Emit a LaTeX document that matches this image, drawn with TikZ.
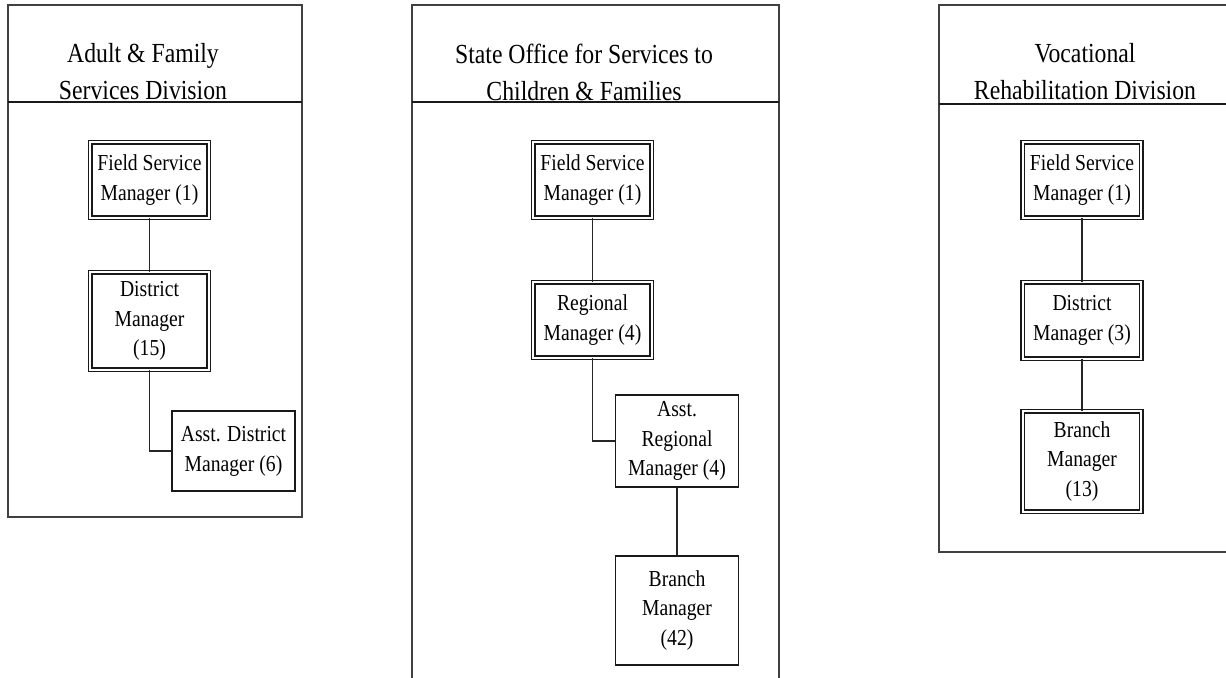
\documentclass[tikz,border=0pt]{standalone}
\usepackage{fontspec}
\setmainfont{Liberation Serif}[FakeStretch=0.86]
\begin{document}
\begin{tikzpicture}[x=0.02cm,y=-0.02cm,
		frame/.style={draw=black!75,line width=0.7pt},
		rule/.style={draw=black!90,line width=1.1pt},
		head/.style={align=center,font=\fontsize{15.7}{21}\selectfont},
		dbox/.style={draw=black!90,double,line width=0.75pt,double distance=1.3pt,align=center,minimum width=2.37cm,inner sep=0pt,font=\fontsize{13}{17}\selectfont},
		sbox/.style={draw=black!90,line width=0.8pt,align=center,minimum width=2.46cm,inner sep=0pt,font=\fontsize{13}{17}\selectfont},
		link/.style={draw=black!85,line width=0.7pt}]
		\useasboundingbox (0,0) rectangle (1226,678);
		
		% first division
		\draw[frame] (8,5) rectangle (302,517);
		\draw[rule] (8,102) -- (302,102);
		\node[head] (ttlA) at (143,72) {Adult \& Family\\Services Division};
		\node[dbox,minimum height=1.51cm] (fsmA) at (149.5,180) {Field Service\\Manager (1)};
		\node[dbox,minimum height=1.95cm] (dmA) at (149.5,321) {District\\Manager\\(15)};
		\node[sbox,minimum height=1.6cm] (admA) at (233.5,451) {Asst. District\\Manager (6)};
		\draw[link] (fsmA) -- (dmA);
		\draw[link] (dmA.south) |- (admA.west);
		
		% second division
		\draw[frame] (412,678) -- (412,5) -- (779,5) -- (779,678);
		\draw[rule] (412,102) -- (779,102);
		\node[head] (ttlB) at (584,72) {State Office for Services to\\Children \& Families};
		\node[dbox,minimum height=1.51cm] (fsmB) at (592.5,180) {Field Service\\Manager (1)};
		\node[dbox,minimum height=1.51cm] (rmB) at (592.5,320) {Regional\\Manager (4)};
		\node[sbox,minimum height=1.84cm] (armB) at (677,441) {Asst.\\Regional\\Manager (4)};
		\node[sbox,minimum height=2.18cm] (bmB) at (677,610.5) {Branch\\Manager\\(42)};
		\draw[link] (fsmB) -- (rmB);
		\draw[link] (rmB.south) |- (armB.west);
		\draw[link] (armB) -- (bmB);
		
		% third division
		\draw[frame] (1226,5) -- (939,5) -- (939,552) -- (1226,552);
		\draw[rule] (939,104) -- (1226,104);
		\node[head] (ttlC) at (1085,72) {Vocational\\Rehabilitation Division};
		\node[dbox,minimum height=1.51cm] (fsmC) at (1082,180) {Field Service\\Manager (1)};
		\node[dbox,minimum height=1.53cm] (dmC) at (1082,320.5) {District\\Manager (3)};
		\node[dbox,minimum height=2.01cm] (bmC) at (1082,461.5) {Branch\\Manager\\(13)};
		\draw[link] (fsmC) -- (dmC);
		\draw[link] (dmC) -- (bmC);
\end{tikzpicture}
\end{document}
